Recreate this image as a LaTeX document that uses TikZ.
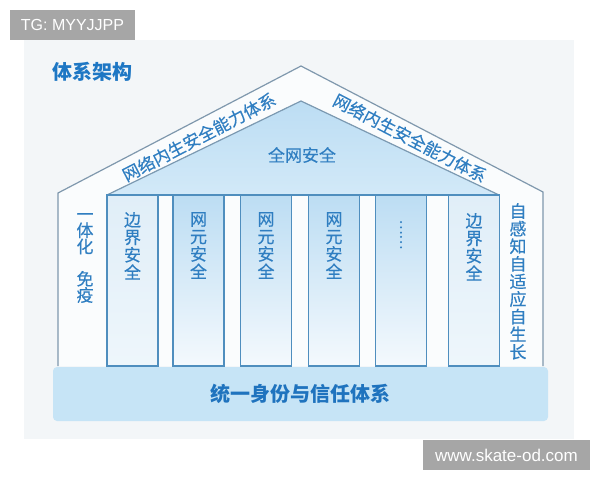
\documentclass[tikz,border=0pt]{standalone}
\usepackage{fontspec}
\setmainfont{Noto Sans CJK SC}
\newfontfamily\medfont{Noto Sans CJK SC}[FakeBold=0.35]
\newfontfamily\wmfont{Liberation Sans}
\definecolor{panelgrey}{HTML}{F3F6F8}
\definecolor{housefill}{HTML}{FAFCFD}
\definecolor{outlinec}{HTML}{7F98AD}
\definecolor{roofA}{HTML}{BCDDF3}
\definecolor{roofB}{HTML}{D2E9F8}
\definecolor{rooflinec}{HTML}{7C9AB2}
\definecolor{pillarline}{HTML}{4F8EBE}
\definecolor{textblue}{HTML}{2F7EC1}
\definecolor{titleblue}{HTML}{1E77C4}
\definecolor{barfill}{HTML}{C6E4F6}
\definecolor{bartext}{HTML}{1F73BE}
\definecolor{wmgrey}{HTML}{A6A6A6}
\definecolor{pilA}{HTML}{BCDDF3}
\definecolor{pilB}{HTML}{F4F9FD}
\definecolor{edgeA}{HTML}{E0EEF8}
\definecolor{edgeB}{HTML}{EEF6FB}
\begin{document}
\begin{tikzpicture}[x=1pt,y=-1pt,
  wmbox/.style={fill=wmgrey, text=white, inner sep=0pt, font=\wmfont\fontsize{16}{16}\selectfont},
  pillar/.style={draw=pillarline, line width=1.2pt, minimum width=51pt, minimum height=171pt, inner sep=0pt},
  midpillar/.style={pillar, top color=pilA, bottom color=pilB},
  edgepillar/.style={pillar, top color=edgeA, bottom color=edgeB},
  vtext/.style={text=textblue, font=\medfont\fontsize{17}{17.5}\selectfont, align=center, inner sep=0pt, anchor=north},
  rooftext/.style={text=textblue, font=\medfont\fontsize{17}{17}\selectfont, inner sep=0pt},
  outl/.style={draw=outlinec, line width=1.2pt, line join=miter},
]
\useasboundingbox (0,0) rectangle (600,480);
\fill[white] (0,0) rectangle (600,480);
\node[fill=panelgrey, minimum width=550pt, minimum height=399pt, inner sep=0pt, anchor=north west] (panel) at (24,40) {};

% house outline
\coordinate (hl) at (58,366);
\coordinate (hlt) at (58,193);
\coordinate (hap) at (301,66);
\coordinate (hrt) at (543,192);
\coordinate (hr) at (543,366);
\fill[housefill] (hl) -- (hlt) -- (hap) -- (hrt) -- (hr) -- cycle;
\draw[outl] (hl) -- (hlt) -- (hap) -- (hrt) -- (hr);

% inner roof
\coordinate (rl) at (107,195);
\coordinate (rap) at (301,101);
\coordinate (rr) at (499,195);
\fill[top color=roofA, bottom color=roofB] (rl) -- (rap) -- (rr) -- cycle;
\draw[draw=rooflinec, line width=1.2pt] (rl) -- (rap) -- (rr);

% pillars
\node[edgepillar] (p1) at (132.5,280.5) {};
\node[midpillar] (p2) at (198.5,280.5) {};
\node[midpillar] (p3) at (266,280.5) {};
\node[midpillar] (p4) at (334,280.5) {};
\node[midpillar] (p5) at (401,280.5) {};
\node[edgepillar] (p6) at (474,280.5) {};
\draw[draw=pillarline, line width=1.2pt] (rl) -- (rr);

% pillar texts
\node[vtext] (t1) at (132.5,212) {边\\界\\安\\全};
\node[vtext] (t2) at (198.5,212) {网\\元\\安\\全};
\node[vtext] (t3) at (266,212) {网\\元\\安\\全};
\node[vtext] (t4) at (334,212) {网\\元\\安\\全};
\node[text=textblue, font=\medfont\fontsize{14}{14}\selectfont, rotate=90, inner sep=0pt] (t5) at (401,235) {……};
\node[vtext] (t6) at (474,213) {边\\界\\安\\全};

% side texts
\node[vtext, font=\medfont\fontsize{17}{16.2}\selectfont] (lside) at (85,213) {一\\体\\化\\[16.2pt]免\\疫};
\node[vtext, font=\medfont\fontsize{17}{17.6}\selectfont] (rside) at (518,203) {自\\感\\知\\自\\适\\应\\自\\生\\长};

% roof texts
\node[rooftext, rotate=27.5] (rtl) at (199,137) {网络内生安全能力体系};
\node[rooftext, rotate=-27.5] (rtr) at (410,138) {网络内生安全能力体系};
\node[rooftext] (top) at (302,155) {全网安全};

% base bar
\node[fill=barfill, rounded corners=4pt, minimum width=495pt, minimum height=54pt, inner sep=0pt,
      text=bartext, font=\bfseries\fontsize{20}{20}\selectfont] (bar) at (300.5,394) {统一身份与信任体系};

% title
\node[anchor=west, text=titleblue, font=\bfseries\fontsize{20}{20}\selectfont, inner sep=0pt] (title) at (52,72) {体系架构};

% watermarks
\node[wmbox, minimum width=125pt, minimum height=30pt] (tg) at (72.5,25) {TG: MYYJJPP};
\node[wmbox, minimum width=167pt, minimum height=30pt, font=\wmfont\fontsize{17}{17}\selectfont] (url) at (506.5,455) {www.skate-od.com};
\end{tikzpicture}
\end{document}
